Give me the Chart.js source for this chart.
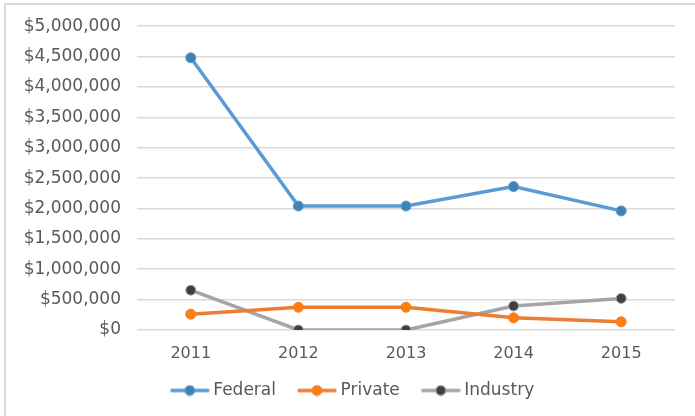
<!DOCTYPE html>
<html>
<head>
<meta charset="utf-8">
<script src="https://cdn.jsdelivr.net/npm/chart.js@4/dist/chart.umd.min.js"></script>
<style>
  body { margin: 0; background: #fff; }
  #wrap { position: relative; width: 695px; height: 416px; }
  #frame { position: absolute; left: 4px; top: 3px; right: -2px; bottom: -2px;
           border-left: 2px solid #d9d9d9; border-top: 2px solid #d9d9d9; }
  canvas { position: absolute; left: 0; top: 0; }
</style>
</head>
<body>
<div id="wrap">
  <div id="frame"></div>
  <canvas id="fundingChart" width="695" height="416"></canvas>
</div>
<script>
// funding by source
const years = ['2011', '2012', '2013', '2014', '2015'];
const federal = [4480000, 2040000, 2040000, 2360000, 1960000];
const privateFunds = [260000, 375000, 375000, 200000, 135000];
const industry = [655000, 0, 0, 395000, 520000];
const yTicks = [0, 500000, 1000000, 1500000, 2000000, 2500000, 3000000, 3500000, 4000000, 4500000, 5000000];

const textColor = '#595959';
const gridColor = '#d9d9d9';

// legend swatch: short line with a dot, pushed to the right of the image
// so it sits close to the label text like the Excel legend
function legendSwatch(lineColor, dotColor) {
    const c = document.createElement('canvas');
    c.width = 56;
    c.height = 12;
    const g = c.getContext('2d');
    g.strokeStyle = lineColor;
    g.lineWidth = 3.5;
    g.lineCap = 'round';
    g.beginPath();
    g.moveTo(18, 6);
    g.lineTo(54, 6);
    g.stroke();
    g.fillStyle = dotColor;
    g.beginPath();
    g.arc(36, 6, 5, 0, Math.PI * 2);
    g.fill();
    g.lineWidth = 1;
    g.stroke();
    return c;
}

function makeSet(label, values, lineColor, dotColor) {
    return {
        label: label,
        data: values,
        borderColor: lineColor,
        backgroundColor: dotColor,
        pointBackgroundColor: dotColor,
        pointBorderColor: lineColor,
        pointRadius: 5,
        pointBorderWidth: 1,
        borderWidth: 3.5,
        tension: 0,
        legendImage: legendSwatch(lineColor, dotColor)
    };
}

const ctx = document.getElementById('fundingChart').getContext('2d');
const moneyFmt = v => '$' + Number(v).toLocaleString('en-US');

new Chart(ctx, {
    type: 'line',
    data: {
        labels: years,
        datasets: [
            makeSet('Federal', federal, '#5B9BD5', '#3F83B5'),
            makeSet('Private', privateFunds, '#ED7D31', '#FF7F0E'),
            makeSet('Industry', industry, '#A5A5A5', '#404040')
        ]
    },
    options: {
        responsive: false,
        animation: false,
        layout: { padding: { left: 18, right: 20, top: 20.8, bottom: 7 } },
        scales: {
            x: {
                offset: true,
                grid: { display: false, drawTicks: false },
                border: { display: false },
                ticks: { color: textColor, font: { family: 'DejaVu Sans', size: 16 }, padding: 14 },
                afterFit: s => { s.height = 42; }
            },
            y: {
                min: 0,
                max: 5000000,
                afterBuildTicks: s => { s.ticks = yTicks.map(v => ({ value: v })); },
                grid: { color: gridColor, lineWidth: 1.5, drawTicks: false },
                border: { display: false },
                ticks: {
                    color: textColor,
                    font: { family: 'DejaVu Sans', size: 17 },
                    padding: 16,
                    callback: v => moneyFmt(v)
                },
                afterFit: s => { s.width = 119; }
            }
        },
        plugins: {
            title: { display: false },
            tooltip: { enabled: false },
            legend: {
                position: 'bottom',
                labels: {
                    color: textColor,
                    font: { family: 'DejaVu Sans', size: 17 },
                    usePointStyle: true,
                    pointStyleWidth: 46,
                    padding: 10,
                    generateLabels: chart => chart.data.datasets.map((ds, i) => ({
                        text: ds.label,
                        pointStyle: ds.legendImage,
                        fontColor: textColor,
                        strokeStyle: ds.borderColor,
                        fillStyle: ds.backgroundColor,
                        lineWidth: 0,
                        datasetIndex: i
                    }))
                }
            }
        }
    }
});
</script>
</body>
</html>
